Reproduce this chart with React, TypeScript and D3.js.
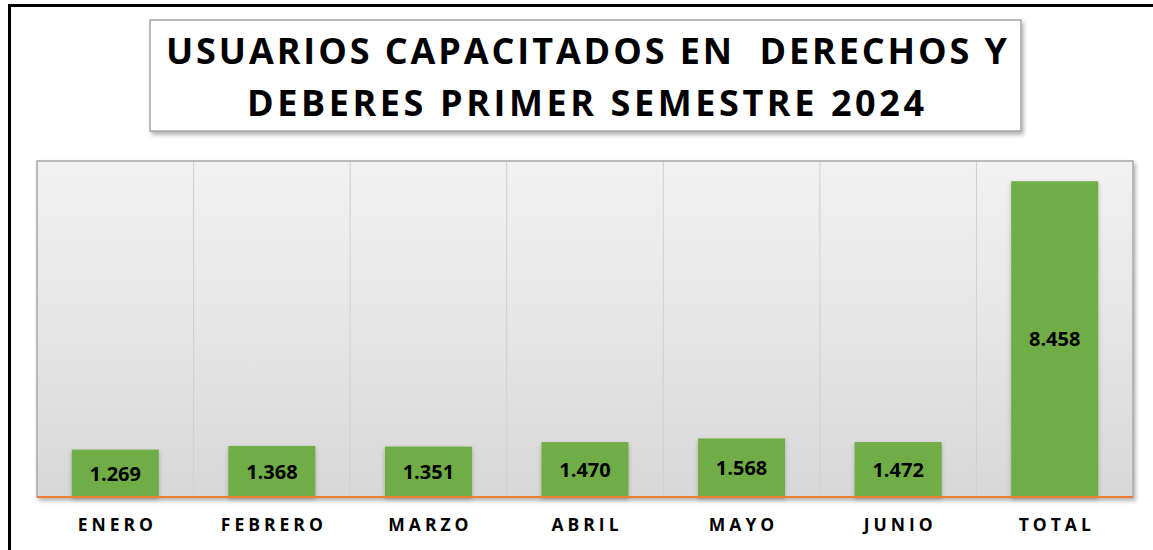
import React from "react";
import * as d3 from "d3";

const categories = ["ENERO", "FEBRERO", "MARZO", "ABRIL", "MAYO", "JUNIO", "TOTAL"];
const values = [1269, 1368, 1351, 1470, 1568, 1472, 8458];
const titleLines = ["USUARIOS CAPACITADOS EN  DERECHOS Y", "DEBERES PRIMER SEMESTRE 2024"];
const yDomain = [0, 9000];

const W = 1153;
const H = 550;
const plot = { left: 37, right: 1133, top: 161, bottom: 497 };

const locale = d3.formatLocale({ decimal: ",", thousands: ".", grouping: [3], currency: ["$", ""] });
const fmt = locale.format(",d");

export default function App() {
  const x = d3
    .scaleBand<string>()
    .domain(categories)
    .range([plot.left, plot.right])
    .paddingInner(0.444)
    .paddingOuter(0.222);
  const y = d3.scaleLinear().domain(yDomain).range([plot.bottom, plot.top]);
  const step = x.step();
  const boundaries = categories.slice(1).map((c) => (x(c) as number) - (step * 0.444) / 2);

  return (
    <svg
      width={W}
      height={H}
      style={{ position: "absolute", left: 0, top: 0, background: "#fff" }}
      fontFamily="'Open Sans', sans-serif"
    >
      <defs>
        <linearGradient id="plotBg" x1="0" y1="0" x2="0" y2="1">
          <stop offset="0" stopColor="#f2f2f2" />
          <stop offset="1" stopColor="#d8d8d8" />
        </linearGradient>
        <filter id="shadow" x="-10%" y="-10%" width="120%" height="130%">
          <feDropShadow dx="2" dy="3" stdDeviation="2" floodColor="#000" floodOpacity="0.3" />
        </filter>
        <filter id="barShadow" x="-20%" y="-10%" width="140%" height="130%">
          <feDropShadow dx="0" dy="2" stdDeviation="2" floodColor="#000" floodOpacity="0.25" />
        </filter>
      </defs>

      {/* outer frame */}
      <rect x={9.5} y={5.5} width={W + 20} height={H + 20} fill="none" stroke="#000" strokeWidth={3} />

      {/* title box */}
      <rect x={150} y={20} width={871} height={111} fill="#fff" stroke="#a6a6a6" strokeWidth={1.5} filter="url(#shadow)" />
      <text
        x={586.5}
        y={64}
        textAnchor="middle"
        fontSize={36}
        fontWeight={700}
        fill="#000"
        style={{ whiteSpace: "pre" }}
        textLength={841}
        lengthAdjust="spacing"
      >
        {titleLines[0]}
      </text>
      <text
        x={585.5}
        y={116}
        textAnchor="middle"
        fontSize={36}
        fontWeight={700}
        fill="#000"
        textLength={677}
        lengthAdjust="spacing"
      >
        {titleLines[1]}
      </text>

      {/* plot area */}
      <rect
        x={plot.left}
        y={plot.top}
        width={plot.right - plot.left}
        height={plot.bottom - plot.top}
        fill="url(#plotBg)"
        stroke="#a6a6a6"
        strokeWidth={1.5}
        filter="url(#shadow)"
      />
      {boundaries.map((bx, i) => (
        <line key={i} x1={bx} x2={bx} y1={plot.top + 1} y2={plot.bottom} stroke="#d0d0d0" strokeWidth={1} />
      ))}

      {/* bars */}
      {categories.map((c, i) => {
        const bx = x(c) as number;
        const by = y(values[i]);
        return (
          <rect
            key={c}
            x={bx}
            y={by}
            width={x.bandwidth()}
            height={y(0) - by}
            fill="#70ad47"
            filter="url(#barShadow)"
          />
        );
      })}

      {/* axis line */}
      <line x1={plot.left} x2={plot.right} y1={plot.bottom} y2={plot.bottom} stroke="#ed7d31" strokeWidth={2} />

      {/* value labels */}
      {categories.map((c, i) => {
        const cx = (x(c) as number) + x.bandwidth() / 2;
        const cy = (y(values[i]) + y(0)) / 2;
        return (
          <text key={c} x={cx} y={cy} dy="0.36em" textAnchor="middle" fontSize={20} fontWeight={700} fill="#000">
            {fmt(values[i])}
          </text>
        );
      })}

      {/* category labels */}
      {categories.map((c) => (
        <text
          key={c}
          x={(x(c) as number) + x.bandwidth() / 2 + 2}
          y={531}
          textAnchor="middle"
          fontSize={17.5}
          fontWeight={700}
          letterSpacing={4}
          fill="#000"
        >
          {c}
        </text>
      ))}
    </svg>
  );
}
